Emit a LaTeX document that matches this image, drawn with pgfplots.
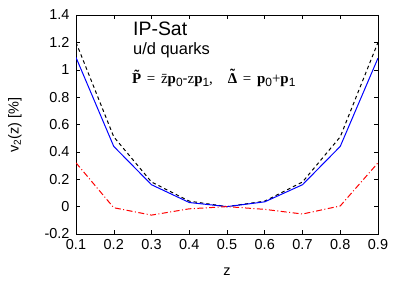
\documentclass[border=0pt]{standalone}
\usepackage{pgfplots}
\pgfplotsset{compat=1.18}
\usepackage{fontspec}
\setmainfont{Liberation Sans}
\newfontfamily\tms{Liberation Serif}
\newcommand\tildeD{{\tms\bfseries\ooalign{Δ\cr\hidewidth\raisebox{0.24em}{\char"02DC}\hidewidth\cr}}}
\newcommand\sub[1]{\raisebox{-0.25em}{\fontsize{12}{13}\selectfont #1}}
\begin{document}
\begin{tikzpicture}[x=1bp,y=1bp]
\useasboundingbox (-76bp,-50bp) rectangle (331bp,234bp);
\begin{axis}[
  at={(0,0)}, anchor=south west,
  scale only axis, width=302bp, height=219bp,
  xmin=0.1, xmax=0.9, ymin=-0.2, ymax=1.4,
  xtick={0.1,0.2,0.3,0.4,0.5,0.6,0.7,0.8,0.9},
  xticklabels={0.1,0.2,0.3,0.4,0.5,0.6,0.7,0.8,0.9},
  ytick={-0.2,0,0.2,0.4,0.6,0.8,1,1.2,1.4},
  yticklabels={-0.2,0,0.2,0.4,0.6,0.8,1,1.2,1.4},
  tick align=inside, major tick length=4bp,
  tick style={black, line width=0.5pt},
  axis line style={black, line width=0.8pt},
  ticklabel style={font=\fontsize{14.5}{16}\selectfont},
  xticklabel style={yshift=-2bp},
  yticklabel style={xshift=-3bp},
  clip=true,
]
\addplot[black, line width=1pt, dash pattern=on 3.5pt off 3pt] coordinates {
(0.1,1.20) (0.2,0.51) (0.3,0.18) (0.4,0.04) (0.5,0.0) (0.6,0.04) (0.7,0.18) (0.8,0.51) (0.9,1.20)};
\addplot[blue, line width=1pt] coordinates {
(0.1,1.09) (0.2,0.44) (0.3,0.16) (0.4,0.03) (0.5,0.0) (0.6,0.035) (0.7,0.16) (0.8,0.44) (0.9,1.085)};
\addplot[red, line width=1pt, dash pattern=on 6pt off 2.5pt on 1pt off 2.5pt] coordinates {
(0.1,0.32) (0.2,-0.008) (0.3,-0.062) (0.4,-0.016) (0.5,0.0) (0.6,-0.02) (0.7,-0.054) (0.8,0.005) (0.9,0.32)};
\end{axis}
\node[anchor=base west, inner sep=0pt, font=\fontsize{19.5}{21}\selectfont] at (57,199) {IP-Sat};
\node[anchor=base west, inner sep=0pt, font=\fontsize{16.5}{18}\selectfont] at (57,180) {u/d quarks};
\node[anchor=base west, inner sep=0pt, font=\fontsize{15}{17}\selectfont] at (56,151) {{\tms\bfseries \~{P}}\hspace{1.5bp} {\tms =}\hspace{1.5bp} {\tms \={z}}{\tms\bfseries p}\sub{0}-{\tms z}{\tms\bfseries p}\sub{1}{\tms ,}\hspace{15bp}\tildeD{}\hspace{1.5bp} {\tms =}\hspace{1.5bp} {\tms\bfseries p}\sub{0}{\tms +}{\tms\bfseries p}\sub{1}};
\node[rotate=90, inner sep=0pt, font=\fontsize{14.5}{16}\selectfont] at (-61,109) {v\textsubscript{2}(z) [\%]};
\node[inner sep=0pt, font=\fontsize{14.5}{16}\selectfont] at (151,-38) {z};
\end{tikzpicture}
\end{document}
